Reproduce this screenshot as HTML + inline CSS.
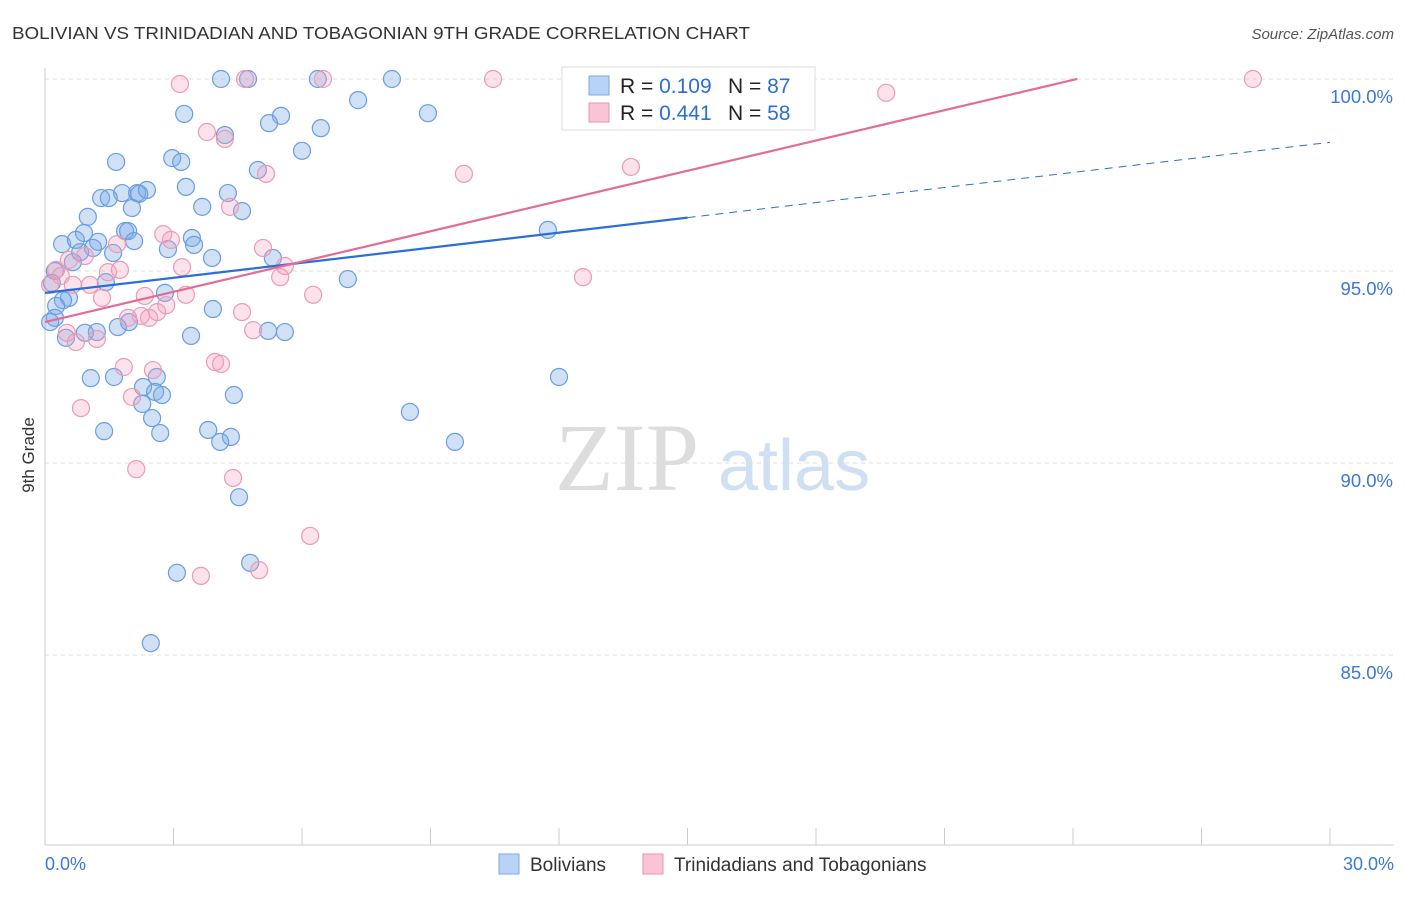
<!DOCTYPE html>
<html><head><meta charset="utf-8"><style>
body{margin:0;background:#fff;font-family:"Liberation Sans",sans-serif;}
</style></head><body>
<svg id="chart" width="1406" height="892" xmlns="http://www.w3.org/2000/svg">
<text x="12" y="39" font-size="17.5" fill="#333" textLength="738" lengthAdjust="spacingAndGlyphs">BOLIVIAN VS TRINIDADIAN AND TOBAGONIAN 9TH GRADE CORRELATION CHART</text>
<text x="1394" y="39" font-size="15" fill="#555" font-style="italic" text-anchor="end">Source: ZipAtlas.com</text>
<text x="34" y="455" font-size="17" fill="#333" transform="rotate(-90 34 455)" text-anchor="middle">9th Grade</text>
<g><text x="555" y="490" font-size="96" fill="#ddd" font-family="Liberation Serif,serif">ZIP</text><text x="718" y="490" font-size="72" fill="#cfe0f3">atlas</text></g>
<g id="grid"></g><g id="axes"></g><g id="pts"></g><g id="lines"></g>
<g>
<rect x="562" y="67" width="253" height="63" fill="#fff" stroke="#ddd"/>
<rect x="589" y="76" width="20" height="19" fill="#b8d3f5" stroke="#7aa8e6"/>
<rect x="589" y="103" width="20" height="19" fill="#f9c5d6" stroke="#eb93b0"/>
<text x="620" y="93" font-size="21" fill="#222">R = <tspan fill="#2b6fd6">0.109</tspan></text>
<text x="728" y="93" font-size="21" fill="#222">N = <tspan fill="#2b6fd6">87</tspan></text>
<text x="620" y="120" font-size="21" fill="#222">R = <tspan fill="#2b6fd6">0.441</tspan></text>
<text x="728" y="120" font-size="21" fill="#222">N = <tspan fill="#2b6fd6">58</tspan></text>
</g>
<g>
<rect x="499" y="854" width="20" height="20" fill="#b8d3f5" stroke="#7aa8e6"/>
<text x="530" y="871" font-size="19" fill="#333">Bolivians</text>
<rect x="643" y="854" width="20" height="20" fill="#f9c5d6" stroke="#eb93b0"/>
<text x="674" y="871" font-size="19" fill="#333">Trinidadians and Tobagonians</text>
</g>
</svg>
<script>
const xTicks=[0,3,6,9,12,15,18,21,24,27,30];
const yTicks=[100,95,90,85];
const yTickLabels=["100.0%","95.0%","90.0%","85.0%"];
const blueX=[4.11,4.74,6.37,8.10,7.31,3.25,8.94,5.51,5.23,6.44,4.20,6.00,1.66,2.97,3.18,4.97,3.29,4.27,1.80,2.15,2.38,2.20,1.31,1.49,3.67,2.03,4.60,1.00,11.74,1.87,1.94,0.91,3.43,2.08,0.40,1.24,0.72,2.87,3.48,1.12,0.82,1.59,3.90,5.32,0.65,0.23,7.07,1.42,0.16,2.80,0.56,0.42,0.26,3.92,0.23,0.12,1.96,1.70,1.21,0.93,0.49,5.21,5.60,3.41,1.07,1.61,2.61,12.0,2.29,2.57,2.73,4.41,2.27,8.52,2.50,1.38,3.81,2.69,4.34,4.09,9.57,4.53,4.79,3.08,2.47];
const blueY=[100,100,100,100,99.45,99.09,99.11,99.04,98.85,98.72,98.54,98.13,97.84,97.94,97.84,97.63,97.19,97.03,97.03,97.03,97.11,97.01,96.90,96.90,96.67,96.64,96.56,96.41,96.07,96.04,96.04,95.99,95.86,95.78,95.70,95.76,95.81,95.57,95.68,95.60,95.49,95.47,95.34,95.34,95.23,95.0,94.79,94.71,94.69,94.43,94.30,94.24,94.09,94.01,93.78,93.67,93.67,93.54,93.41,93.39,93.26,93.44,93.41,93.31,92.21,92.24,92.24,92.24,91.98,91.85,91.77,91.77,91.54,91.33,91.17,90.83,90.86,90.78,90.68,90.55,90.55,89.11,87.40,87.14,85.31];
const pinkX=[3.15,4.67,6.49,10.46,28.20,19.64,3.78,4.20,13.68,9.78,5.16,4.32,2.76,2.94,1.68,5.09,0.93,0.56,3.20,5.60,1.75,1.47,0.26,0.37,12.56,5.49,1.05,0.65,0.12,6.26,3.29,2.33,1.33,2.83,4.60,2.62,2.24,2.43,1.94,4.86,0.51,1.21,0.72,3.97,4.11,1.84,2.52,2.03,0.84,2.13,4.39,6.19,3.64,5.00];
const pinkY=[99.87,100,100,100,100,99.64,98.62,98.44,97.71,97.53,97.53,96.67,95.96,95.81,95.70,95.60,95.39,95.29,95.10,95.13,95.03,94.97,95.03,94.87,94.84,94.84,94.64,94.64,94.64,94.38,94.38,94.35,94.30,94.11,93.93,93.93,93.83,93.78,93.78,93.46,93.39,93.23,93.15,92.63,92.58,92.50,92.42,91.72,91.43,89.84,89.61,88.10,87.06,87.21];
const blueTrend=[94.43,0.1307,15];
const pinkTrend=[93.67,0.2627,24.1];
const X=v=>45+v*42.833, Y=v=>79+(100-v)*38.4;
const NS="http://www.w3.org/2000/svg";
function mk(p,t,a){const e=document.createElementNS(NS,t);for(const k in a)e.setAttribute(k,a[k]);p.appendChild(e);return e;}
const grid=document.getElementById('grid'),axes=document.getElementById('axes');
yTicks.forEach((v,i)=>{
 const l=mk(grid,'line',{x1:45,x2:1394,y1:Y(v),y2:Y(v),stroke:'#ddd','stroke-dasharray':'4,4'});
 
 
 const t=mk(axes,'text',{x:1393,y:Y(v)+24,'font-size':18.5,fill:'#3b78d8','text-anchor':'end'});t.textContent=yTickLabels[i];
 
 
});
mk(axes,'line',{x1:45,x2:45,y1:68,y2:845,stroke:'#ccc'});
mk(axes,'line',{x1:45,x2:1394,y1:845,y2:845,stroke:'#ccc'});
xTicks.forEach(v=>{const l=mk(axes,'line',{x1:X(v),x2:X(v),y1:828,y2:845,stroke:'#ccc'});
 
 });
let t=mk(axes,'text',{x:45,y:870,'font-size':18,fill:'#3b78d8'});t.textContent='0.0%';


t=mk(axes,'text',{x:1394,y:870,'font-size':18,fill:'#3b78d8','text-anchor':'end'});t.textContent='30.0%';


const pts=document.getElementById('pts');
blueX.forEach((v,i)=>{const c=mk(pts,'circle',{cx:X(v),cy:Y(blueY[i]),r:8.5,fill:'rgba(120,168,230,0.35)',stroke:'#6a9de0','stroke-width':1.2});
 
 });
pinkX.forEach((v,i)=>{const c=mk(pts,'circle',{cx:X(v),cy:Y(pinkY[i]),r:8.5,fill:'rgba(244,160,190,0.3)',stroke:'#eb9ab6','stroke-width':1.2});
 
 });
const ln=document.getElementById('lines');
let a=blueTrend;
let e=mk(ln,'line',{x1:X(0),y1:Y(a[0]),x2:X(a[2]),y2:Y(a[0]+a[1]*a[2]),stroke:'#2b6fd6','stroke-width':2.2});


e=mk(ln,'line',{x1:X(a[2]),y1:Y(a[0]+a[1]*a[2]),x2:X(30),y2:Y(a[0]+a[1]*30),stroke:'#2b6fd6','stroke-width':1,'stroke-dasharray':'8,6'});


a=pinkTrend;
e=mk(ln,'line',{x1:X(0),y1:Y(a[0]),x2:X(a[2]),y2:Y(a[0]+a[1]*a[2]),stroke:'#e46b96','stroke-width':2.2});


</script>
</body></html>
